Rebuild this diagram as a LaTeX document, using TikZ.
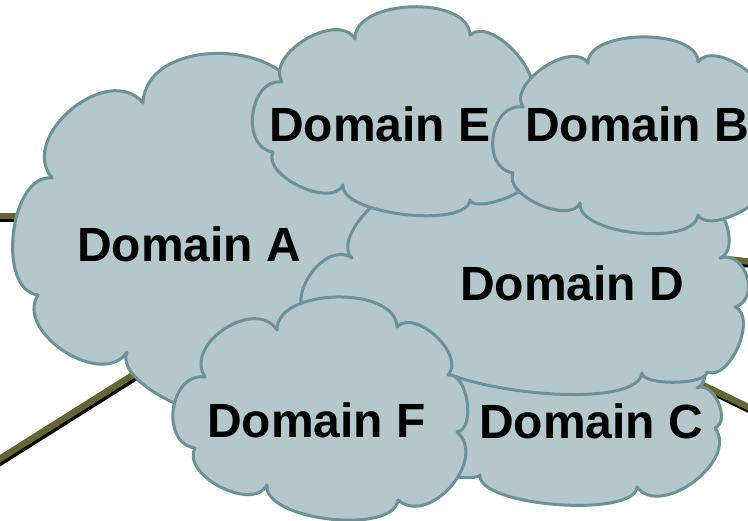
\documentclass[tikz,border=0pt]{standalone}
\usepackage{fontspec}
\setmainfont{Liberation Sans}
\usetikzlibrary{calc}
\definecolor{cloudfill}{RGB}{180,199,202}
\definecolor{cloudline}{RGB}{108,146,150}
\definecolor{linkolive}{RGB}{102,102,51}
\tikzset{
  % a rounded cloud puff between two cusps; #1/#2 set the bulge at each end
  puffs/.style 2 args={to path={.. controls ($(\tikztostart)!#1!90:(\tikztotarget)$)
      and ($(\tikztotarget)!#2!-90:(\tikztostart)$) .. (\tikztotarget)}},
  puff/.style={puffs={#1}{#1}},
  domcloud/.style={fill=cloudfill, draw=cloudline, line width=3pt, line join=round},
  link/.style={draw=linkolive, line width=6.5pt},
  linkshadow/.style={draw=black, line width=6.5pt,
      transform canvas={xshift=1.5pt, yshift=-3pt}},
  domtext/.style={font=\fontsize{48}{50}\selectfont\bfseries, inner sep=0pt, anchor=base west},
}
\begin{document}
\begin{tikzpicture}[x=1pt, y=-1pt]
\useasboundingbox (0,0) rectangle (748,521);
\fill[white] (0,0) rectangle (748,521);
\clip (0,0) rectangle (748,521);

% end points of the outgoing links
\coordinate (wA) at (-10,216);
\coordinate (eA) at (40,216);
\coordinate (sw) at (-10,465);
\coordinate (swA) at (160,358);
\coordinate (eD) at (770,264);
\coordinate (iD) at (700,256);
\coordinate (iC) at (680,374);
\coordinate (se) at (775,420);

% links, with their dark shadow
\foreach \a/\b in {wA/eA, sw/swA, iD/eD, iC/se} {
  \draw[linkshadow] (\a) -- (\b);
}
\foreach \a/\b in {wA/eA, sw/swA, iD/eD, iC/se} {
  \draw[link] (\a) -- (\b);
}

% Domain A
\path[domcloud] (52,178) to[puff=0.46] (143,103) to[puff=0.45] (300,110)
  -- (420,180) -- (430,300) -- (255,405) to[puff=0.28] (127,352)
  to[puff=0.42] (38,295) to[puff=0.36] (52,178) -- cycle;

% Domain C
\path[domcloud] (680,355) to[puff=0.56] (697,388) to[puff=0.41] (715,428)
  to[puff=0.41] (637,487) to[puff=0.2] (480,475) to[puff=0.1] (420,470)
  -- (425,390) -- (440,355) -- cycle;

% Domain D
\path[domcloud] (352,258) to[puff=0.33] (405,198) -- (520,188) -- (700,200)
  to[puff=0.37] (720,258) to[puff=0.53] (735,307) to[puff=0.35] (707,372)
  to[puff=0.2] (642,373) to[puff=0.19] (415,345) -- (310,320)
  to[puff=0.45] (352,258) -- cycle;

% Domain E
\path[domcloud] (282,82) to[puff=0.39] (355,39) to[puff=0.35] (470,35)
  to[puff=0.34] (528,100) -- (548,135) -- (530,178) to[puff=0.22] (470,200)
  to[puff=0.23] (343,185) to[puff=0.34] (273,152) to[puff=0.47] (282,82) -- cycle;

% Domain B
\path[domcloud] (523,107) to[puff=0.36] (588,63) to[puff=0.31] (698,62)
  to[puff=0.35] (765,110) -- (775,150) -- (770,175) to[puff=0.29] (698,215)
  to[puff=0.27] (580,203) to[puff=0.33] (513,173) to[puff=0.5] (523,107) -- cycle;

% Domain F
\path[domcloud] (205,377) to[puff=0.46] (277,330) to[puff=0.35] (397,327)
  to[puff=0.38] (448,375) to[puff=0.34] (457,432) to[puff=0.46] (398,500)
  to[puff=0.27] (267,485) to[puff=0.38] (195,448) to[puff=0.5] (205,377) -- cycle;

% labels
\node[domtext] (tA) at (77,262) {Domain A};
\node[domtext] (tE) at (269,142) {Domain E};
\node[domtext] (tB) at (525,142) {Domain B};
\node[domtext] (tD) at (460,301) {Domain D};
\node[domtext] (tF) at (207,438) {Domain F};
\node[domtext] (tC) at (479,439) {Domain C};
\end{tikzpicture}
\end{document}
